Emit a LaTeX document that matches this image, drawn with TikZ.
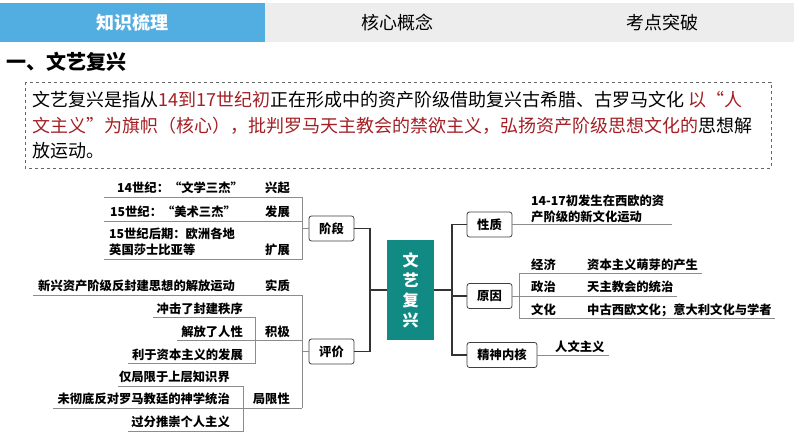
\documentclass[tikz,border=0pt]{standalone}
\usepackage{fontspec}
\setmainfont{Noto Sans CJK SC}
\definecolor{tabblue}{HTML}{52AEE0}
\definecolor{tabgrey}{HTML}{EDEDED}
\definecolor{deepred}{HTML}{A31F24}
\definecolor{tealc}{HTML}{128A84}
\begin{document}
\begin{tikzpicture}[x=1pt,y=-1pt,
  main/.style={draw=black!80, line width=1.2pt},
  sub/.style={draw=black!45, line width=0.8pt},
  box/.style={draw=black!75, line width=0.8pt, rounded corners=2.5pt, fill=white,
    minimum height=25pt, minimum width=45pt, inner sep=0pt,
    font=\bfseries\fontsize{12.3}{14}\selectfont},
  lbl/.style={inner sep=0pt, font=\bfseries\fontsize{12.3}{16}\selectfont, align=left},
  tab/.style={inner sep=0pt, font=\fontsize{18}{20}\selectfont},
  para/.style={inner sep=0pt, anchor=west, font=\fontsize{18}{22}\selectfont},
  hub/.style={fill=tealc, text=white, minimum width=47pt, minimum height=100pt,
    inner sep=0pt, align=center, font=\bfseries\fontsize{16}{20}\selectfont}
]
\useasboundingbox (0,0) rectangle (794,447);
% top tabs
\fill[tabgrey] (265,3) rectangle (794,42);
\fill[tabblue] (0,3) rectangle (265,42);
\node[tab, text=white, font=\bfseries\fontsize{18}{20}\selectfont] (tab1) at (132,22.5) {知识梳理};
\node[tab] (tab2) at (397,22.5) {核心概念};
\node[tab] (tab3) at (662,22.5) {考点突破};
% title
\node[inner sep=0pt, anchor=west, font=\bfseries\fontsize{20}{22}\selectfont] (title) at (6,62) {一、文艺复兴};
% paragraph box
\draw[dashed, draw=black!60, line width=0.8pt] (25,82) rectangle (771,168);
\node[para] (p1) at (32,100) {文艺复兴是指从\textcolor{deepred}{14到17世纪初}正在形成中的资产阶级借助复兴古希腊、古罗马文化 \textcolor{deepred}{以“人}};
\node[para] (p2) at (32,125.5) {\textcolor{deepred}{文主义”为旗帜（核心），批判罗马天主教会的禁欲主义，弘扬资产阶级思想文化的}思想解};
\node[para] (p3) at (32,151) {放运动。};

% hub
\node[hub] (c) at (410.5,290) {文\\艺\\复\\兴};

% left boxes
\node[box] (jd) at (331.5,228.5) {阶段};
\node[box] (pj) at (331.5,351.5) {评价};
\coordinate (lm) at (370,290);
\draw[main] (c.west) -- (lm);
\draw[main] (jd.east) -- (jd.east -| lm) -- (pj.east -| lm) -- (pj.east);

% 阶段 subtree
\coordinate (a0) at (302,197);
\coordinate (a2) at (302,221);
\coordinate (a3) at (302,259);
\coordinate (u1) at (104,197);
\coordinate (u2) at (104,221);
\coordinate (u3) at (104,259);
\node[lbl, anchor=west] (t1) at (117,188) {14世纪：“文学三杰”};
\node[lbl, anchor=east] (s1) at (290,188) {兴起};
\node[lbl, anchor=west] (t2) at (110,212) {15世纪：“美术三杰”};
\node[lbl, anchor=east] (s2) at (290,212) {发展};
\node[lbl, anchor=west] (t3) at (109,241.5) {15世纪后期：欧洲各地\\英国莎士比亚等};
\node[lbl, anchor=east] (s3) at (290,250) {扩展};
\draw[sub] (u1) -- (a0) -- (a3) -- (u3);
\draw[sub] (u2) -- (a2);
\draw[sub] (jd.west) -- (jd.west -| a0);

% 评价 subtree
\coordinate (b0) at (302,295);
\coordinate (b1) at (302,340);
\coordinate (b2) at (302,408);
\node[lbl, anchor=west] (r1) at (38,286) {新兴资产阶级反封建思想的解放运动};
\node[lbl, anchor=east] (q1) at (290,286) {实质};
\coordinate (v1) at (33,295);
\draw[sub] (v1) -- (b0) -- (b2);
\draw[sub] (pj.west) -- (pj.west -| b0);
% 积极
\node[lbl, anchor=east] (q2) at (290,332) {积极};
\coordinate (k0) at (255,317);
\coordinate (k1) at (255,340);
\coordinate (k2) at (255,363);
\node[lbl, anchor=east] (k1t) at (243,309) {冲击了封建秩序};
\node[lbl, anchor=east] (k2t) at (243,332) {解放了人性};
\node[lbl, anchor=east] (k3t) at (243,354.5) {利于资本主义的发展};
\coordinate (k1u) at (153,317);
\coordinate (k2u) at (177,340);
\coordinate (k3u) at (128,363);
\draw[sub] (k1u) -- (k0) -- (k2) -- (k3u);
\draw[sub] (k2u) -- (b1);
% 局限性
\node[lbl, anchor=east] (q3) at (290,398.5) {局限性};
\coordinate (m0) at (243,386);
\coordinate (m1) at (243,408);
\coordinate (m2) at (243,431);
\node[lbl, anchor=east] (m1t) at (230,377) {仅局限于上层知识界};
\node[lbl, anchor=east] (m2t) at (230,398.5) {未彻底反对罗马教廷的神学统治};
\node[lbl, anchor=east] (m3t) at (230,422) {过分推崇个人主义};
\coordinate (m1u) at (118,386);
\coordinate (m2u) at (53,408);
\coordinate (m3u) at (128,431);
\draw[sub] (m1u) -- (m0) -- (m2) -- (m3u);
\draw[sub] (m2u) -- (b2);

% right side
\coordinate (rm) at (452,290);
\node[box] (xz) at (489.5,224.5) {性质};
\node[box] (yy) at (489.5,296) {原因};
\node[box, minimum width=70pt] (jx) at (502,355) {精神内核};
\draw[main] (c.east) -- (rm);
\draw[main] (xz.west) -- (xz.west -| rm) -- (jx.west -| rm) -- (jx.west);
\draw[main] (yy.west) -- (yy.west -| rm);

% 性质
\node[lbl, anchor=west] (xzt) at (531,209) {14-17初发生在西欧的资\\产阶级的新文化运动};
\coordinate (xzu) at (672,224.5);
\draw[sub] (xz.east) -- (xzu);

% 原因
\coordinate (y0) at (519,273);
\coordinate (y2) at (519,318);
\coordinate (y0u) at (702,273);
\coordinate (y1u) at (677,296);
\coordinate (y2u) at (775,318);
\node[lbl, anchor=west] (e1) at (531,265) {经济};
\node[lbl, anchor=west] (e2) at (587,265) {资本主义萌芽的产生};
\node[lbl, anchor=west] (f1) at (531,287) {政治};
\node[lbl, anchor=west] (f2) at (587,287) {天主教会的统治};
\node[lbl, anchor=west] (g1) at (531,310) {文化};
\node[lbl, anchor=west] (g2) at (587,310) {中古西欧文化；意大利文化与学者};
\draw[sub] (y0u) -- (y0) -- (y2) -- (y2u);
\draw[sub] (yy.east) -- (y1u);

% 精神内核
\node[lbl, anchor=west] (h1) at (555,347) {人文主义};
\coordinate (h1u) at (609,355);
\draw[sub] (jx.east) -- (h1u);
\end{tikzpicture}
\end{document}
